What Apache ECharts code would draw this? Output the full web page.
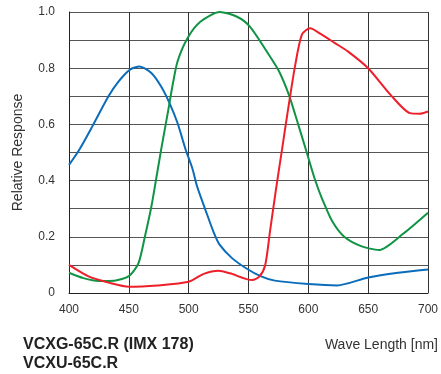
<!DOCTYPE html>
<html>
<head>
<meta charset="utf-8">
<script src="https://cdn.jsdelivr.net/npm/echarts@6/dist/echarts.min.js"></script>
<style>
html,body{margin:0;padding:0;background:#fff;}
#c{width:441px;height:374px;}
</style>
</head>
<body>
<div id="c"></div>
<script>
// Data (wavelength nm, relative response)
var blueData = [[400,0.456],[408.6,0.51],[419.5,0.593],[433,0.70],[441.5,0.753],[451,0.795],[459,0.806],[468.8,0.783],[477,0.735],[484,0.676],[490.7,0.605],[497.5,0.51],[503,0.445],[507,0.38],[514,0.296],[521,0.215],[526,0.171],[536,0.125],[548,0.088],[560,0.06],[572,0.044],[600,0.032],[624,0.027],[650,0.055],[675,0.072],[700,0.084]];
var greenData = [[400,0.072],[412,0.053],[425,0.043],[438,0.044],[450,0.06],[458,0.105],[463.4,0.2],[468.8,0.307],[473,0.41],[477,0.51],[482.5,0.64],[486.6,0.74],[490.7,0.824],[499,0.907],[510,0.966],[526,1.0],[540,0.984],[551,0.949],[567,0.848],[575.5,0.789],[583.7,0.706],[589,0.635],[598,0.51],[605.6,0.403],[612,0.33],[620,0.255],[630,0.2],[644,0.167],[659,0.153],[679.5,0.212],[700,0.286]];
var redData = [[400,0.1],[416.8,0.058],[433,0.037],[450,0.022],[474,0.027],[500,0.04],[512.6,0.068],[525,0.079],[534.5,0.07],[553,0.046],[559,0.058],[564,0.1],[568,0.22],[573,0.37],[578,0.51],[582.4,0.635],[589,0.81],[594.7,0.92],[601.5,0.942],[611,0.92],[622,0.89],[633,0.86],[650,0.8],[668.6,0.706],[685,0.64],[693,0.638],[700,0.646]];
var xTicks = [400,450,500,550,600,650,700];
var yLabels = ['0','0.2','0.4','0.6','0.8','1.0'];
var titleLines = ['VCXG-65C.R (IMX 178)','VCXU-65C.R'];
var xName = 'Wave Length [nm]';
var yName = 'Relative Response';

var chart = echarts.init(document.getElementById('c'), null, {renderer:'canvas'});
var font = 'Liberation Sans, Arial, Helvetica, sans-serif';
function mk(name, data, color){
  return {name:name, type:'line', data:data, smooth:0.25, symbol:'none',
    lineStyle:{color:color, width:2}, itemStyle:{color:color}, z:3};
}
chart.setOption({
  animation:false,
  backgroundColor:'#fff',
  grid:{left:69, right:6, top:12, bottom:81, containLabel:false},
  xAxis:{type:'value', min:xTicks[0], max:xTicks[xTicks.length-1], interval:50,
    axisLine:{show:true, lineStyle:{color:'#222', width:1}},
    axisTick:{show:false},
    axisLabel:{margin:11, color:'#333', fontSize:12, fontFamily:font},
    splitLine:{show:true, lineStyle:{color:'#333', width:1}}},
  yAxis:{type:'value', min:0, max:1, interval:0.1,
    name:yName, nameLocation:'middle', nameGap:44, nameRotate:90,
    nameTextStyle:{color:'#333', fontSize:14, fontFamily:font},
    axisLine:{show:true, lineStyle:{color:'#222', width:1}},
    axisTick:{show:false},
    axisLabel:{margin:14, color:'#333', fontSize:12, fontFamily:font,
      formatter:function(v){var k=Math.round(v*10); return (k%2===0)? yLabels[k/2] : '';}},
    splitLine:{show:true, lineStyle:{color:'#555', width:1}}},
  series:[mk('Blue', blueData, '#0a6cba'), mk('Green', greenData, '#109444'), mk('Red', redData, '#ee1f2a')],
  graphic:[
    {type:'text', left:23, top:337, style:{text:titleLines[0], fill:'#222', font:'bold 16px '+font}},
    {type:'text', left:23, top:356, style:{text:titleLines[1], fill:'#222', font:'bold 16px '+font}},
    {type:'text', right:3, top:338, style:{text:xName, fill:'#333', font:'14px '+font}}
  ]
});
</script>
</body>
</html>
